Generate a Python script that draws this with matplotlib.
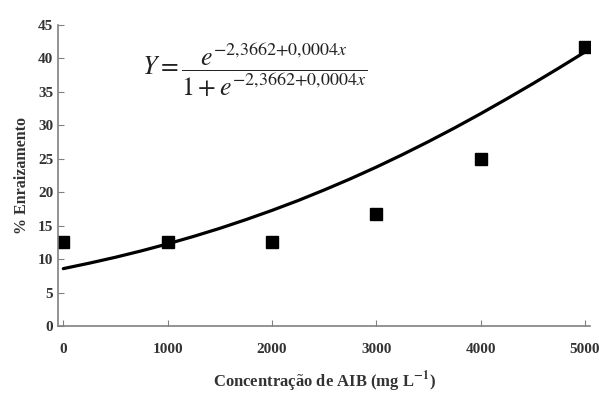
import matplotlib.pyplot as plt
import numpy as np

# observed rooting (%) per AIB concentration
conc = [0, 1000, 2000, 3000, 4000, 5000]
enraiz = [12.5, 12.5, 12.5, 16.7, 25.0, 41.7]

# fitted logistic curve
curve_x = [0, 250, 500, 750, 1000, 1250, 1500, 1750, 2000, 2250, 2500,
           2750, 3000, 3250, 3500, 3750, 4000, 4250, 4500, 4750, 5000]
curve_y = [8.58, 9.40, 10.28, 11.24, 12.28, 13.40, 14.60, 15.90, 17.28, 18.75, 20.33,
           21.99, 23.75, 25.61, 27.56, 29.60, 31.73, 33.94, 36.21, 38.55, 40.95]

yticks = [0, 5, 10, 15, 20, 25, 30, 35, 40, 45]
xticks = [0, 1000, 2000, 3000, 4000, 5000]

plt.rcParams['font.family'] = ['Liberation Serif', 'DejaVu Serif']
plt.rcParams['mathtext.fontset'] = 'stix'

fig = plt.figure(figsize=(5.99, 4.03), dpi=100)
ax = fig.add_axes([0.097, 0.191, 0.888, 0.747])

ax.plot(curve_x, curve_y, color='black', lw=2.3, solid_capstyle='round')
ax.plot(conc, enraiz, 's', color='black', ms=8)

ax.set_xlim(-50, 5050)
ax.set_ylim(0, 45)
ax.set_xticks(xticks)
ax.set_yticks(yticks)

for s in ['top', 'right']:
    ax.spines[s].set_visible(False)
for s in ['left', 'bottom']:
    ax.spines[s].set_color('#808080')
    ax.spines[s].set_linewidth(1.2)

ax.tick_params(direction='in', length=4, color='#808080', labelsize=11, labelcolor='#333333')
ax.tick_params(axis='x', pad=12)
for lab in ax.get_xticklabels() + ax.get_yticklabels():
    lab.set_fontweight('bold')

ax.set_ylabel('% Enraizamento', fontsize=11.5, fontweight='bold', color='#333333', labelpad=6)
ax.set_xlabel('Concentração de AIB (mg L$^{\\mathbf{-1}}$)', fontsize=12, fontweight='bold',
              color='#333333', labelpad=10)

ax.text(0.158, 0.85, r'$Y=\dfrac{e^{-2{,}3662{+}0{,}0004x}}{1+e^{-2{,}3662{+}0{,}0004x}}$',
        transform=ax.transAxes, fontsize=18.5, va='center', ha='left', color='#222222')

fig.savefig('out.png', dpi=100)
